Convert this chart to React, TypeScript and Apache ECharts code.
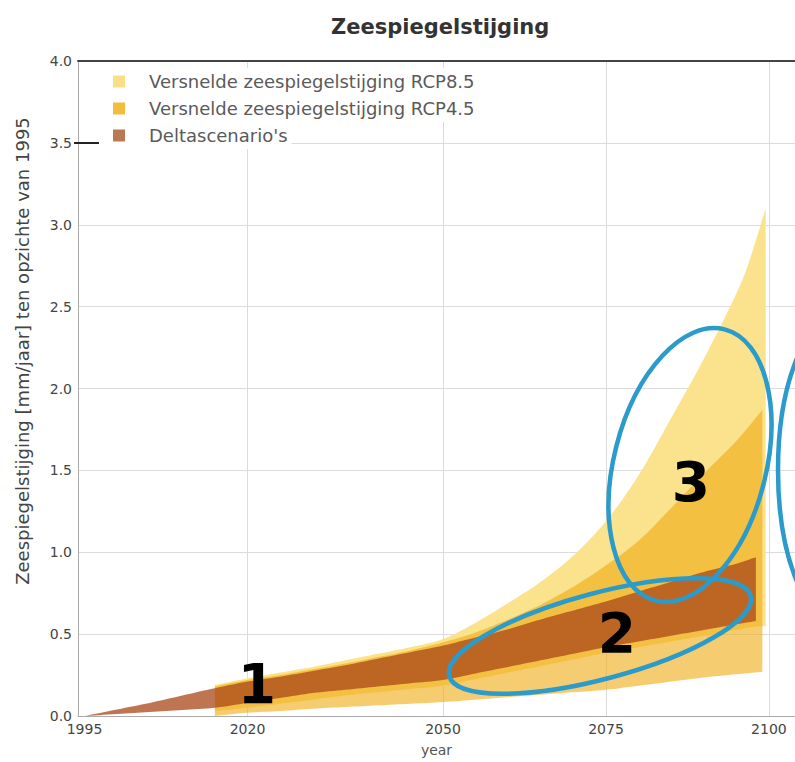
import React, { useEffect, useRef } from "react";
import * as echarts from "echarts";

// ---------- data ----------
const xLabelYears = [1995, 2020, 2050, 2075, 2100];
const xGridYears = [2020, 2050, 2075, 2100];

const seriesNames = [
  "Versnelde zeespiegelstijging RCP8.5",
  "Versnelde zeespiegelstijging RCP4.5",
  "Deltascenario's",
];

// RCP8.5 band (light yellow)
const rcp85Years = [2015, 2020, 2025, 2030, 2035, 2040, 2045, 2050, 2055, 2060, 2065, 2070, 2075, 2080, 2085, 2090, 2095, 2097, 2099.5];
const rcp85Low = [0.03, 0.05, 0.075, 0.1, 0.125, 0.145, 0.165, 0.185, 0.225, 0.265, 0.305, 0.345, 0.385, 0.42, 0.455, 0.49, 0.525, 0.54, 0.55];
const rcp85High = [0.19, 0.23, 0.265, 0.3, 0.34, 0.38, 0.42, 0.47, 0.57, 0.69, 0.82, 0.98, 1.19, 1.47, 1.82, 2.18, 2.58, 2.78, 3.1];

// RCP4.5 band (orange)
const rcp45Years = [2015, 2020, 2025, 2030, 2035, 2040, 2045, 2050, 2055, 2060, 2065, 2070, 2075, 2080, 2085, 2090, 2095, 2099];
const rcp45Low = [0.0, 0.02, 0.03, 0.045, 0.055, 0.065, 0.075, 0.085, 0.1, 0.115, 0.13, 0.145, 0.16, 0.185, 0.21, 0.235, 0.255, 0.27];
const rcp45High = [0.18, 0.22, 0.25, 0.285, 0.32, 0.36, 0.4, 0.45, 0.51, 0.59, 0.68, 0.79, 0.92, 1.07, 1.27, 1.48, 1.68, 1.87];

// Deltascenario's band (brown)
const deltaYears = [1995, 2000, 2005, 2010, 2015, 2020, 2025, 2030, 2035, 2040, 2045, 2050, 2055, 2060, 2065, 2070, 2075, 2080, 2085, 2090, 2095, 2098];
const deltaLow = [0, 0.012, 0.025, 0.037, 0.05, 0.08, 0.11, 0.14, 0.16, 0.18, 0.2, 0.22, 0.26, 0.3, 0.34, 0.38, 0.42, 0.455, 0.49, 0.525, 0.56, 0.58];
const deltaHigh = [0, 0.04, 0.08, 0.125, 0.17, 0.21, 0.24, 0.275, 0.31, 0.35, 0.39, 0.43, 0.48, 0.53, 0.59, 0.645, 0.7, 0.76, 0.82, 0.88, 0.93, 0.97];

const FONT = "DejaVu Sans";

// Catmull-Rom smoothing of an edge given in screen coordinates (drawing only)
function smoothEdge(pts: number[][]): number[][] {
  if (pts.length < 3) return pts;
  const out: number[][] = [];
  const steps = 8;
  for (let i = 0; i < pts.length - 1; i++) {
    const p0 = pts[Math.max(0, i - 1)];
    const p1 = pts[i];
    const p2 = pts[i + 1];
    const p3 = pts[Math.min(pts.length - 1, i + 2)];
    for (let s = 0; s < steps; s++) {
      const t = s / steps;
      const t2 = t * t;
      const t3 = t2 * t;
      const f = (a: number, b: number, c: number, d: number) =>
        0.5 * (2 * b + (-a + c) * t + (2 * a - 5 * b + 4 * c - d) * t2 + (-a + 3 * b - 3 * c + d) * t3);
      out.push([f(p0[0], p1[0], p2[0], p3[0]), f(p0[1], p1[1], p2[1], p3[1])]);
    }
  }
  out.push(pts[pts.length - 1]);
  return out;
}

function band(
  name: string,
  years: number[],
  lo: number[],
  hi: number[],
  fill: string,
  swatch: string,
  z: number
) {
  return {
    type: "custom",
    name,
    z,
    silent: true,
    clip: true,
    data: years.map((y, i) => [y, lo[i], hi[i]]),
    encode: { x: 0, y: [1, 2] },
    itemStyle: { color: swatch },
    renderItem: (params: any, api: any) => {
      if (params.dataIndex !== 0) return null;
      const top = smoothEdge(years.map((y, i) => api.coord([y, hi[i]])));
      const bottom = smoothEdge(years.map((y, i) => api.coord([y, lo[i]])));
      const pts = top.concat(bottom.reverse());
      return {
        type: "polygon",
        shape: { points: pts },
        style: { fill, stroke: null, lineWidth: 0 },
      };
    },
  };
}

export default function App() {
  const ref = useRef<HTMLDivElement>(null);

  useEffect(() => {
    document.body.style.margin = "0";
    if (!ref.current) return;
    const chart = echarts.init(ref.current, null, { renderer: "svg" });

    const option: any = {
      animation: false,
      backgroundColor: "#fff",
      title: {
        text: "Zeespiegelstijging",
        left: 326,
        top: 11,
        textStyle: { fontFamily: FONT, fontSize: 21, fontWeight: "bold", color: "#333" },
      },
      legend: {
        orient: "vertical",
        left: 113,
        top: 68,
        padding: 0,
        itemWidth: 12,
        itemHeight: 12,
        itemGap: 0,
        icon: "rect",
        selectedMode: false,
        data: seriesNames,
        textStyle: {
          fontFamily: FONT,
          fontSize: 18,
          color: "#5a5a5a",
          lineHeight: 27,
          backgroundColor: "#fff",
          padding: [0, 4, 0, 19],
        },
      },
      grid: { left: 78, right: 0, top: 61, bottom: 44, containLabel: false },
      xAxis: [
        {
          type: "value",
          min: 1994,
          max: 2104,
          name: "year",
          nameLocation: "middle",
          nameGap: 27,
          nameTextStyle: { fontFamily: FONT, fontSize: 14, color: "#555" },
          axisLine: { show: true, lineStyle: { color: "#aaa", width: 1 } },
          axisTick: { show: false, customValues: xGridYears },
          axisLabel: {
            customValues: xLabelYears,
            formatter: (v: number) => String(v),
            fontFamily: FONT,
            fontSize: 14,
            color: "#444",
            margin: 6,
          },
          splitLine: { show: true, lineStyle: { color: "#dcdcdc", width: 1 } },
        },
        {
          type: "value",
          position: "top",
          min: 1994,
          max: 2104,
          axisLine: { show: true, lineStyle: { color: "#444", width: 2 } },
          axisTick: { show: false },
          axisLabel: { show: false },
          splitLine: { show: false },
        },
      ],
      yAxis: {
        type: "value",
        min: 0,
        max: 4,
        interval: 0.5,
        name: "Zeespiegelstijging [mm/jaar] ten opzichte van 1995",
        nameLocation: "middle",
        nameGap: 47,
        nameTextStyle: {
          fontFamily: FONT,
          fontSize: 18,
          color: "#444",
          padding: [0, 0, 0, 75],
        },
        axisLine: { show: true, lineStyle: { color: "#aaa", width: 1 } },
        axisTick: { show: false },
        axisLabel: {
          fontFamily: FONT,
          fontSize: 14,
          color: "#444",
          margin: 6,
          formatter: (v: number) => v.toFixed(1),
        },
        splitLine: { show: true, lineStyle: { color: "#dcdcdc", width: 1 } },
      },
      series: [
        band(seriesNames[0], rcp85Years, rcp85Low, rcp85High, "#fbe28c", "#f8df88", 2),
        band(seriesNames[1], rcp45Years, rcp45Low, rcp45High, "rgba(240,170,17,0.6)", "#f2bd3e", 3),
        band(seriesNames[2], deltaYears, deltaLow, deltaHigh, "rgba(171,74,26,0.76)", "#bb7854", 4),
      ],
      graphic: [
        { type: "rect", z: 1, silent: true, shape: { x: 79, y: 63, width: 72, height: 89 }, style: { fill: "#fff" } },
        { type: "line", z: 5, silent: true, shape: { x1: 74, y1: 143, x2: 99, y2: 143 }, style: { stroke: "#222", lineWidth: 2 } },
        {
          type: "ellipse", z: 100, silent: true, x: 690, y: 465, rotation: -0.25,
          shape: { cx: 0, cy: 0, rx: 76, ry: 140 },
          style: { fill: "none", stroke: "#2a9bcb", lineWidth: 4.5 },
        },
        {
          type: "ellipse", z: 100, silent: true, x: 600, y: 636, rotation: 0.26,
          shape: { cx: 0, cy: 0, rx: 156, ry: 43 },
          style: { fill: "none", stroke: "#2a9bcb", lineWidth: 4.5 },
        },
        {
          type: "ellipse", z: 100, silent: true, x: 835, y: 470,
          shape: { cx: 0, cy: 0, rx: 57, ry: 150 },
          style: { fill: "none", stroke: "#2a9bcb", lineWidth: 4.5 },
        },
        {
          type: "text", z: 101, silent: true, x: 257, y: 684,
          style: { text: "1", fontFamily: FONT, fontSize: 55, fontWeight: "bold", fill: "#000", align: "center", verticalAlign: "middle" },
        },
        {
          type: "text", z: 101, silent: true, x: 617, y: 633,
          style: { text: "2", fontFamily: FONT, fontSize: 55, fontWeight: "bold", fill: "#000", align: "center", verticalAlign: "middle" },
        },
        {
          type: "text", z: 101, silent: true, x: 691, y: 482,
          style: { text: "3", fontFamily: FONT, fontSize: 55, fontWeight: "bold", fill: "#000", align: "center", verticalAlign: "middle" },
        },
      ],
    };

    chart.setOption(option);
    return () => chart.dispose();
  }, []);

  return <div ref={ref} style={{ width: 795, height: 762 }} />;
}
